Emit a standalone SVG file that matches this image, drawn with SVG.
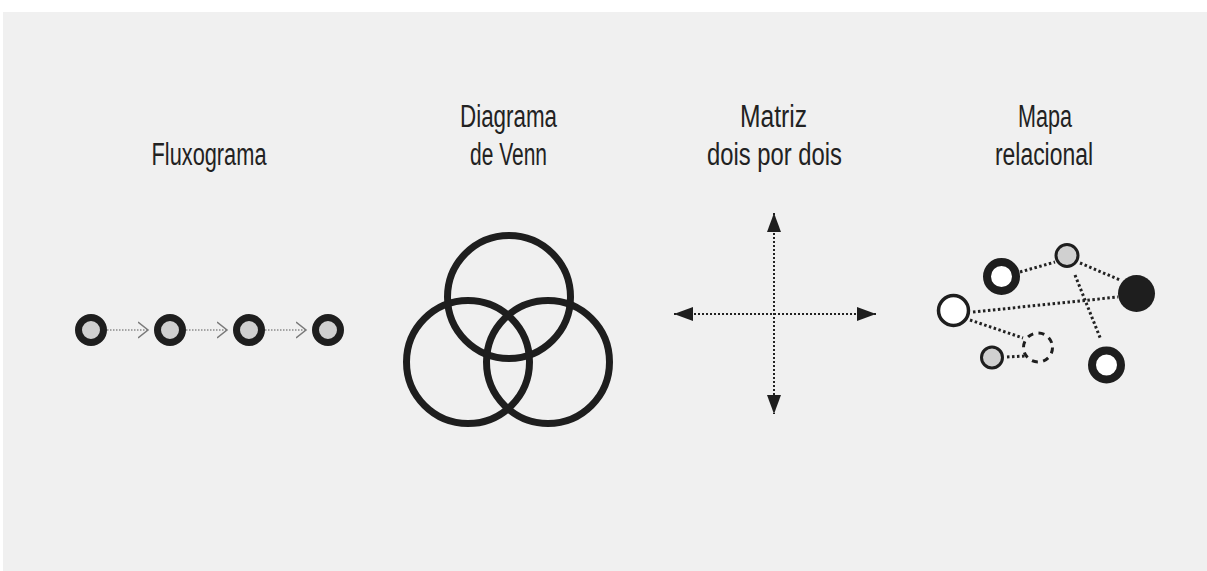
<svg xmlns="http://www.w3.org/2000/svg" width="1207" height="571" viewBox="0 0 1207 571">
<defs>
<style>
.t{font-family:"Liberation Sans Narrow","Liberation Sans",Arial,sans-serif;font-size:31px;fill:#222;text-anchor:middle}
.fc{fill:#d0d0d0;stroke:#1e1e1e;stroke-width:7}
.fl{stroke:#8a8a8a;stroke-width:1.6;stroke-dasharray:1.5 1.5;fill:none}
.mx{stroke:#222;stroke-width:2;stroke-dasharray:2 2;fill:none}
.rl{stroke:#222;stroke-width:3;stroke-dasharray:2.5 2.5;fill:none}
.v{fill:none;stroke:#1e1e1e;stroke-width:7}
</style>
<marker id="chev" markerUnits="userSpaceOnUse" markerWidth="12" markerHeight="18" refX="10" refY="9" orient="auto" viewBox="0 0 12 18">
<path d="M0,1 L10,9 L0,17" fill="none" stroke="#7a7a7a" stroke-width="1.5"/>
</marker>
<marker id="tri" markerUnits="userSpaceOnUse" markerWidth="19" markerHeight="14" refX="19" refY="7" orient="auto-start-reverse" viewBox="0 0 19 14">
<path d="M0,0 L19,7 L0,14 z" fill="#1e1e1e"/>
</marker>
</defs>
<rect x="0" y="0" width="1207" height="571" fill="#ffffff"/>
<rect x="3" y="12" width="1204" height="559" fill="#f0f0f0"/>

<g id="titles">
<text class="t" x="209" y="165" textLength="115" lengthAdjust="spacingAndGlyphs">Fluxograma</text>
<text class="t" x="508.5" y="127" textLength="97" lengthAdjust="spacingAndGlyphs">Diagrama</text>
<text class="t" x="508.5" y="165" textLength="77" lengthAdjust="spacingAndGlyphs">de Venn</text>
<text class="t" x="773.5" y="127" textLength="67" lengthAdjust="spacingAndGlyphs">Matriz</text>
<text class="t" x="774.5" y="165" textLength="135" lengthAdjust="spacingAndGlyphs">dois por dois</text>
<text class="t" x="1045" y="127" textLength="54" lengthAdjust="spacingAndGlyphs">Mapa</text>
<text class="t" x="1044" y="165" textLength="98" lengthAdjust="spacingAndGlyphs">relacional</text>
</g>

<g id="connectors">
<line class="fl" x1="107" y1="330" x2="148" y2="330" marker-end="url(#chev)"/>
<line class="fl" x1="186" y1="330" x2="227" y2="330" marker-end="url(#chev)"/>
<line class="fl" x1="265" y1="330" x2="306" y2="330" marker-end="url(#chev)"/>
<line class="mx" x1="674" y1="314" x2="876" y2="314" marker-start="url(#tri)" marker-end="url(#tri)"/>
<line class="mx" x1="774" y1="213" x2="774" y2="414" marker-start="url(#tri)" marker-end="url(#tri)"/>
<line class="rl" x1="1020" y1="272" x2="1055" y2="262"/>
<line class="rl" x1="1080" y1="263" x2="1120" y2="280"/>
<line class="rl" x1="1075" y1="275" x2="1101" y2="340"/>
<line class="rl" x1="973" y1="312" x2="1118" y2="297"/>
<line class="rl" x1="970" y1="320" x2="1023" y2="338"/>
<line class="rl" x1="1007" y1="357" x2="1025" y2="356"/>
</g>

<g id="fluxograma">
<g id="f1"><circle class="fc" cx="91" cy="330" r="12.5"/></g>
<g id="f2"><circle class="fc" cx="170" cy="330" r="12.5"/></g>
<g id="f3"><circle class="fc" cx="249" cy="330" r="12.5"/></g>
<g id="f4"><circle class="fc" cx="328" cy="330" r="12.5"/></g>
</g>

<g id="venn">
<g id="v-top"><circle class="v" cx="509" cy="297" r="61.5"/></g>
<g id="v-left"><circle class="v" cx="468" cy="362" r="61.5"/></g>
<g id="v-right"><circle class="v" cx="548" cy="362" r="61.5"/></g>
</g>

<g id="mapa">
<g id="m-ring1"><circle cx="1001.5" cy="276.5" r="14.5" fill="#ffffff" stroke="#1e1e1e" stroke-width="8"/></g>
<g id="m-gray1"><circle cx="1067" cy="255.5" r="11" fill="#d0d0d0" stroke="#1e1e1e" stroke-width="3"/></g>
<g id="m-black"><circle cx="1136.5" cy="293.5" r="18.5" fill="#1e1e1e"/></g>
<g id="m-white"><circle cx="953.5" cy="310.5" r="15" fill="#ffffff" stroke="#1e1e1e" stroke-width="3.5"/></g>
<g id="m-gray2"><circle cx="992" cy="357.5" r="10.5" fill="#d0d0d0" stroke="#1e1e1e" stroke-width="3"/></g>
<g id="m-dashed"><circle cx="1038" cy="347.5" r="14.5" fill="none" stroke="#1e1e1e" stroke-width="3" stroke-dasharray="6 5.4"/></g>
<g id="m-ring2"><circle cx="1106.5" cy="365" r="14.5" fill="#ffffff" stroke="#1e1e1e" stroke-width="8"/></g>
</g>
</svg>
